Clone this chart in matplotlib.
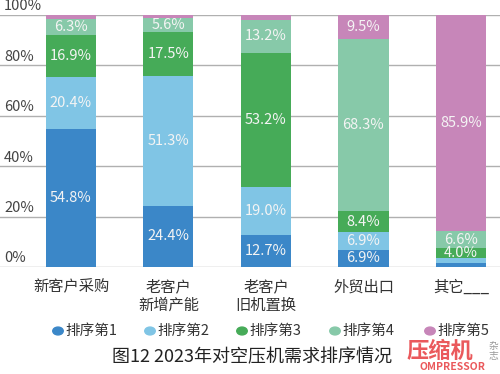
import matplotlib
matplotlib.use("Agg")
import matplotlib.pyplot as plt
import matplotlib.transforms as mtransforms
import numpy as np

plt.rcParams['font.family'] = ['Noto Sans CJK SC', 'DejaVu Sans']

# data
categories = ["新客户采购", "老客户\n新增产能", "老客户\n旧机置换", "外贸出口", "其它___"]
series_names = ["排序第1", "排序第2", "排序第3", "排序第4", "排序第5"]
rank1 = [54.8, 24.4, 12.7, 6.9, 1.5]
rank2 = [20.4, 51.3, 19.0, 6.9, 2.0]
rank3 = [16.9, 17.5, 53.2, 8.4, 4.0]
rank4 = [6.3, 5.6, 13.2, 68.3, 6.6]
rank5 = [1.6, 1.2, 1.9, 9.5, 85.9]
yticks = [0, 20, 40, 60, 80, 100]
ytick_labels = ["0%", "20%", "40%", "60%", "80%", "100%"]

colors = ["#3b87c8", "#80c5e5", "#46ab58", "#87c9a9", "#c786b9"]

fig = plt.figure(figsize=(5, 3.74), dpi=100)
ax = fig.add_axes([0.0, 1 - 267 / 374, 1.0, (267 - 15) / 374])

x = np.arange(len(categories))
bottom = np.zeros(len(categories))
for vals, col in zip([rank1, rank2, rank3, rank4, rank5], colors):
    vals = np.array(vals)
    ax.bar(x, vals, width=0.513, bottom=bottom, color=col, zorder=2)
    for xi, b, v in zip(x, bottom, vals):
        if v >= 4:
            ax.text(xi, b + v / 2, f"{v:.1f}%", ha="center", va="center",
                    fontsize=10.5, color="#f4f4f4", zorder=3)
    bottom += vals

ax.set_xlim(-0.728, 4.4)
ax.set_ylim(0, 100)
for s in ax.spines.values():
    s.set_visible(False)
ax.set_yticks([])
ax.set_xticks([])

trans = mtransforms.blended_transform_factory(ax.transAxes, ax.transData)
for t, lab in zip(yticks, ytick_labels):
    ax.axhline(t, color="#b0b0b0", lw=1.0, zorder=1)
    ax.text(0.008, t + 1.8, lab, transform=trans, ha="left", va="baseline",
            fontsize=10.5, color="#444444")

for xi, cat in zip(x, categories):
    ax.text(xi, -4.5, cat, ha="center", va="top", fontsize=11,
            color="#333333", linespacing=1.1)

# legend
legend_x = [58, 150, 242, 335, 430]
for lx, name, col in zip(legend_x, series_names, colors):
    fig.patches.append(plt.Circle((lx / 500, 1 - 331 / 374), 0.0105,
                                  transform=fig.transFigure, color=col,
                                  figure=fig))
    fig.text((lx + 7) / 500, 1 - 331 / 374, name, ha="left", va="center",
             fontsize=10.5, color="#333333")

fig.text(252 / 500, 1 - 357 / 374, "图12 2023年对空压机需求排序情况",
         ha="center", va="center", fontsize=13, color="#222222")

# watermark logo
fig.text(440 / 500, 1 - 351 / 374, "压缩机", ha="center", va="center",
         fontsize=16, color="#e8474a", fontweight="bold", alpha=0.9)
fig.text(493 / 500, 1 - 351 / 374, "杂\n志", ha="center", va="center",
         fontsize=7, color="#999999", linespacing=1.0)
fig.text(452 / 500, 1 - 367.5 / 374, "OMPRESSOR", ha="center", va="center",
         fontsize=7.5, color="#e8474a", fontweight="bold", alpha=0.9)

fig.savefig("out.png", dpi=100)
